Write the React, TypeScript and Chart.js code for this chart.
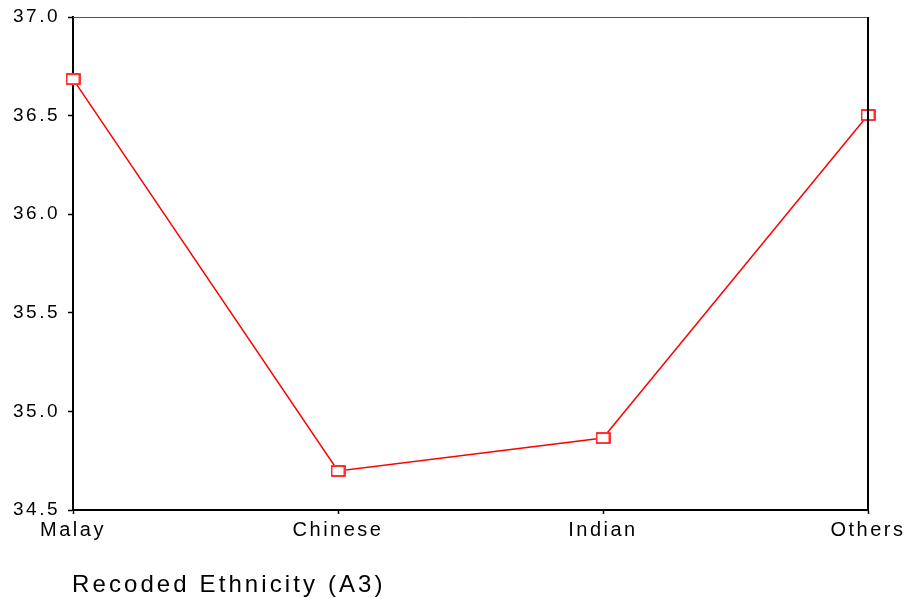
import React, { useEffect, useRef } from "react";
import { Chart, registerables } from "chart.js";

Chart.register(...registerables);

const categories = ["Malay", "Chinese", "Indian", "Others"];
const meanValues = [36.685, 34.698, 34.865, 36.503];
const yTicks = [34.5, 35.0, 35.5, 36.0, 36.5, 37.0];
const axisTitle = "Recoded Ethnicity (A3)";

const FONT = "'Liberation Sans', Arial, sans-serif";
const TICK_SPACING = "2.5px";

function makeMarker(): HTMLCanvasElement {
  const c = document.createElement("canvas");
  c.width = 15;
  c.height = 12;
  const g = c.getContext("2d")!;
  g.fillStyle = "#ffffff";
  g.fillRect(0, 0, 15, 12);
  g.strokeStyle = "#ff0000";
  g.lineWidth = 1.6;
  g.strokeRect(1, 1, 13, 10);
  return c;
}

const spacingPlugin = {
  id: "spacing",
  beforeUpdate(chart: any) {
    (chart.ctx as any).letterSpacing = TICK_SPACING;
  },
  beforeLayout(chart: any) {
    (chart.ctx as any).letterSpacing = TICK_SPACING;
  },
  beforeDraw(chart: any) {
    (chart.ctx as any).letterSpacing = TICK_SPACING;
  },
};

const framePlugin = {
  id: "frame",
  afterDraw(chart: any) {
    const { ctx, chartArea } = chart;
    ctx.save();
    ctx.strokeStyle = "#555";
    ctx.lineWidth = 1;
    ctx.beginPath();
    ctx.moveTo(chartArea.left, chartArea.top + 0.5);
    ctx.lineTo(chartArea.right, chartArea.top + 0.5);
    ctx.stroke();
    ctx.strokeStyle = "#000";
    ctx.lineWidth = 2;
    ctx.beginPath();
    ctx.moveTo(chartArea.right, chartArea.top);
    ctx.lineTo(chartArea.right, chartArea.bottom);
    ctx.stroke();
    // axis title
    (ctx as any).letterSpacing = "3.1px";
    ctx.font = `24px ${FONT}`;
    ctx.fillStyle = "#000";
    ctx.textAlign = "left";
    ctx.textBaseline = "alphabetic";
    ctx.fillText(axisTitle, chartArea.left - 1, 592);
    ctx.restore();
  },
};

export default function App() {
  const ref = useRef<HTMLCanvasElement | null>(null);
  useEffect(() => {
    if (!ref.current) return;
    const marker = makeMarker();
    const chart = new Chart(ref.current, {
      type: "line",
      data: {
        labels: categories,
        datasets: [
          {
            data: meanValues,
            borderColor: "#ff0000",
            borderWidth: 1.5,
            backgroundColor: "#ffffff",
            pointStyle: marker as any,
            pointRadius: 7,
            tension: 0,
            clip: false as any,
          },
        ],
      },
      options: {
        animation: false,
        responsive: false,
        maintainAspectRatio: false,
        layout: { padding: { top: 17, right: 40, left: 0, bottom: 0 } },
        plugins: { legend: { display: false }, tooltip: { enabled: false } },
        scales: {
          x: {
            type: "category",
            offset: false,
            grid: { drawOnChartArea: false, drawTicks: true, tickLength: 4, color: "#000", tickWidth: 1.5 },
            border: { display: true, color: "#000", width: 2 },
            ticks: { color: "#000", font: { family: FONT, size: 20 }, padding: 4, maxRotation: 0, autoSkip: false },
            afterFit(scale: any) {
              scale.height = 88;
              scale.paddingLeft = 0;
              scale.paddingRight = 0;
            },
          },
          y: {
            min: yTicks[0],
            max: yTicks[yTicks.length - 1],
            afterBuildTicks(scale: any) {
              scale.ticks = yTicks.map((v) => ({ value: v }));
            },
            grid: { drawOnChartArea: false, drawTicks: true, tickLength: 5, color: "#000", tickWidth: 1.5 },
            border: { display: true, color: "#000", width: 2 },
            ticks: {
              color: "#000",
              font: { family: FONT, size: 19 },
              padding: 8,
              callback: (v: any) => Number(v).toFixed(1),
            },
            afterFit(scale: any) {
              scale.width = 73;
              scale.paddingTop = 0;
              scale.paddingBottom = 0;
            },
          },
        },
      },
      plugins: [spacingPlugin, framePlugin],
    });
    return () => chart.destroy();
  }, []);
  return (
    <div style={{ position: "fixed", left: 0, top: 0, width: 908, height: 598, background: "#fff" }}>
      <canvas ref={ref} width={908} height={598} style={{ width: 908, height: 598 }} />
    </div>
  );
}
